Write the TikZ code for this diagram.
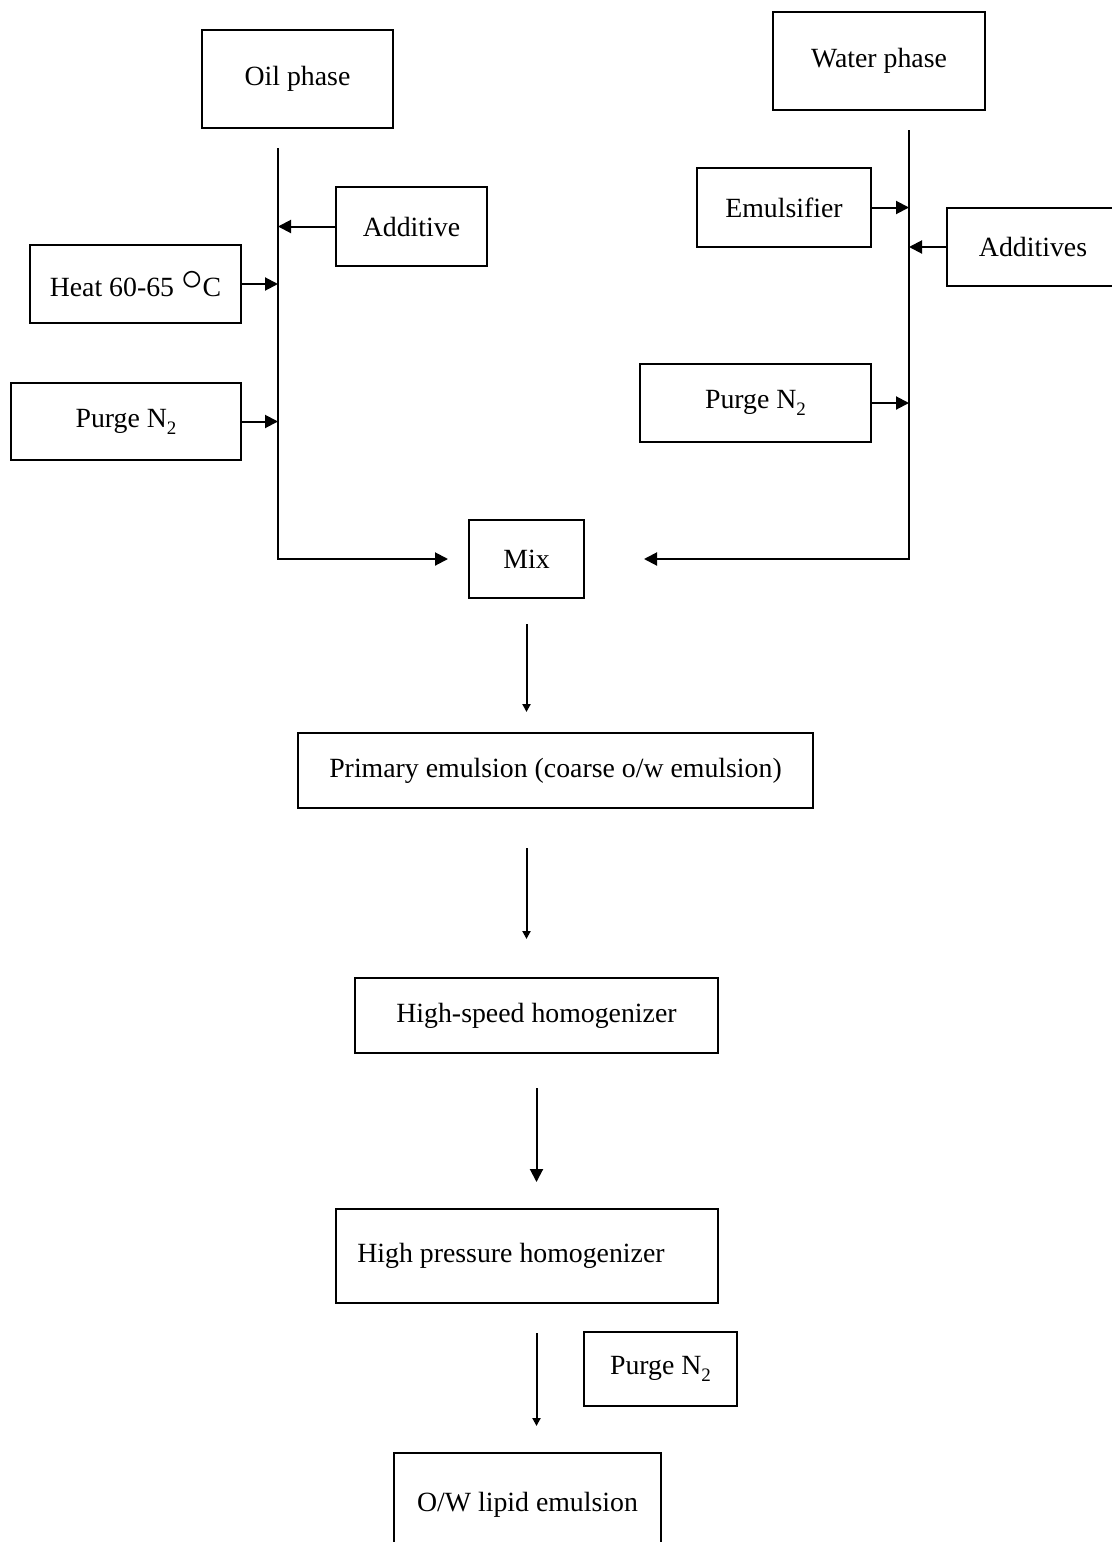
\documentclass[tikz,border=0pt]{standalone}
\usepackage{fontspec}
\setmainfont{Liberation Serif}
\usetikzlibrary{arrows.meta}
\newcommand{\subtwo}{\raisebox{-0.55ex}{\fontsize{9.5}{10}\selectfont 2}}
\begin{document}
\begin{tikzpicture}[x=0.5pt,y=-0.5pt,
  box/.style={draw, line width=1pt, inner sep=0pt, align=center,
    font=\fontsize{13.9}{16}\selectfont},
  arr/.style={line width=1pt, -{Triangle[length=6.5pt,width=6.5pt]}},
  arrs/.style={line width=1pt, -{Triangle[length=4pt,width=4pt]}}]
\useasboundingbox (0,0) rectangle (1112,1542);
% top boxes
\node[box, minimum width=95.5pt, minimum height=49pt] (oil) at (297.5,79) {\raisebox{3pt}{Oil phase}};
\node[box, minimum width=106pt, minimum height=49pt] (water) at (879,61) {\raisebox{3pt}{Water phase}};
\node[box, minimum width=75.5pt, minimum height=39.5pt] (additive) at (411.5,226.5) {Additive};
\node[box, minimum width=105.5pt, minimum height=39pt] (heat) at (135.5,284) {Heat 60-65 \raisebox{0.5ex}{\scalebox{1.5}{$\circ$}}C};
\node[box, minimum width=115pt, minimum height=38.5pt] (purgeL) at (126,421.5) {Purge N\subtwo};
\node[box, minimum width=87pt, minimum height=39.5pt] (emuls) at (784,207.5) {Emulsifier};
\node[box, minimum width=86pt, minimum height=39pt] (additives) at (1033,247) {Additives};
\node[box, minimum width=115.5pt, minimum height=39pt] (purgeR) at (755.5,403) {Purge N\subtwo};
\node[box, minimum width=57.5pt, minimum height=39pt] (mix) at (526.5,559) {Mix};
% process chain
\node[box, minimum width=257.5pt, minimum height=37.5pt] (primary) at (555.5,770.5) {Primary emulsion (coarse o/w emulsion)};
\node[box, minimum width=181.5pt, minimum height=37.5pt] (hs) at (536.5,1015.5) {High-speed homogenizer};
\node[box, minimum width=191pt, minimum height=47pt] (hp) at (527,1256) {High pressure homogenizer\hspace*{16pt}};
\node[box, minimum width=76.5pt, minimum height=37pt] (purgeB) at (660.5,1369) {Purge N\subtwo};
\node[box, minimum width=133.5pt, minimum height=53.5pt] (ow) at (527.5,1506.5) {\raisebox{4.75pt}{O/W lipid emulsion}};
% collecting lines
\coordinate (oiltop) at (278,148);
\coordinate (wattop) at (909,130);
\draw[arr, shorten >=10pt] (oiltop) -- (oiltop |- mix.west) -- (mix.west);
\draw[arr, shorten >=29.5pt] (wattop) -- (wattop |- mix.east) -- (mix.east);
% feeders
\draw[arr] (additive.west) -- (additive.west -| oiltop);
\draw[arr] (heat.east) -- (heat.east -| oiltop);
\draw[arr] (purgeL.east) -- (purgeL.east -| oiltop);
\draw[arr] (emuls.east) -- (emuls.east -| wattop);
\draw[arr] (additives.west) -- (additives.west -| wattop);
\draw[arr] (purgeR.east) -- (purgeR.east -| wattop);
% vertical flow
\draw[arrs, shorten <=12.5pt, shorten >=10pt] (mix.south) -- (mix.south |- primary.north);
\draw[arrs, shorten <=19.5pt, shorten >=19pt] (primary.south -| mix.south) -- (hs.north -| mix.south);
\draw[arr, shorten <=17pt, shorten >=13pt] (hs.south) -- (hs.south |- hp.north);
\draw[arrs, shorten <=14.5pt, shorten >=13pt] (hp.south -| hs.south) -- (ow.north -| hs.south);
\end{tikzpicture}
\end{document}
